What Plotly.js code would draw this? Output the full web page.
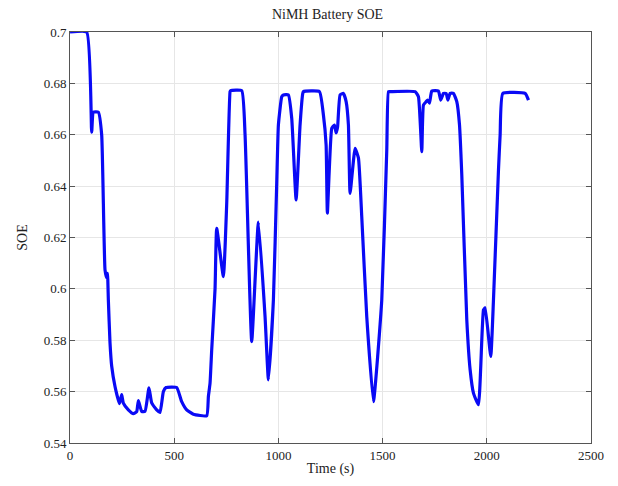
<!DOCTYPE html>
<html>
<head>
<meta charset="utf-8">
<script src="https://cdn.plot.ly/plotly-3.0.1.min.js"></script>
<style>html,body{margin:0;padding:0;background:#fff;}#chart{width:618px;height:486px;}</style>
</head>
<body>
<div id="chart"></div>
<script>
// Time (s)
var timeS = [0, 80, 104, 112, 136, 152, 168, 176, 180, 184, 192, 200, 216, 237, 248, 256, 280, 304, 320, 328, 344, 360, 379, 392, 416, 432, 448, 461, 512, 536, 560, 592, 656, 664, 672, 680, 696, 704, 736, 752, 768, 771, 824, 840, 872, 904, 936, 952, 976, 992, 1000, 1016, 1024, 1048, 1064, 1085, 1104, 1117, 1120, 1197, 1216, 1229, 1235, 1256, 1269, 1277, 1284, 1296, 1312, 1325, 1336, 1344, 1368, 1384, 1400, 1424, 1456, 1496, 1520, 1528, 1536, 1656, 1672, 1688, 1696, 1709, 1716, 1725, 1736, 1768, 1779, 1792, 1805, 1813, 1824, 1840, 1856, 1869, 1880, 1904, 1920, 1936, 1960, 1984, 1992, 2019, 2032, 2056, 2064, 2077, 2184, 2200];
// State of energy
var soe = [0.700, 0.700, 0.661, 0.6688, 0.6688, 0.660, 0.6074, 0.6043, 0.606, 0.5957, 0.579, 0.570, 0.562, 0.5553, 0.5588, 0.5555, 0.5529, 0.5514, 0.5522, 0.5565, 0.5523, 0.5523, 0.5615, 0.5556, 0.5529, 0.5519, 0.560, 0.5616, 0.5616, 0.5561, 0.5529, 0.5512, 0.5506, 0.5581, 0.5633, 0.5763, 0.600, 0.6236, 0.6048, 0.6333, 0.6768, 0.6772, 0.6772, 0.660, 0.5795, 0.626, 0.5892, 0.5646, 0.5957, 0.6412, 0.6638, 0.6748, 0.6755, 0.6755, 0.6664, 0.6346, 0.6638, 0.6761, 0.6768, 0.6768, 0.6677, 0.656, 0.6295, 0.6625, 0.6638, 0.6607, 0.6630, 0.6755, 0.6761, 0.6729, 0.6638, 0.6372, 0.6547, 0.651, 0.628, 0.5892, 0.5561, 0.5957, 0.654, 0.6768, 0.6768, 0.6768, 0.6748, 0.6534, 0.6716, 0.6729, 0.6735, 0.6723, 0.677, 0.677, 0.6735, 0.6761, 0.6761, 0.6735, 0.6761, 0.6761, 0.6729, 0.6638, 0.6444, 0.588, 0.5685, 0.5594, 0.5549, 0.5918, 0.5926, 0.5737, 0.5957, 0.6463, 0.660, 0.6761, 0.6761, 0.6735];

var xTickVals = [0, 500, 1000, 1500, 2000, 2500];
var xTickText = ["0", "500", "1000", "1500", "2000", "2500"];
var yTickVals = [0.54, 0.56, 0.58, 0.6, 0.62, 0.64, 0.66, 0.68, 0.7];
var yTickText = ["0.54", "0.56", "0.58", "0.6", "0.62", "0.64", "0.66", "0.68", "0.7"];

var serif = "Liberation Serif, Times New Roman, serif";

var trace = {
  x: timeS, y: soe, type: "scatter", mode: "lines",
  line: {color: "#0a0af5", width: 3.2, shape: "spline", smoothing: 0.4},
  hoverinfo: "skip"
};

var layout = {
  width: 618, height: 486,
  margin: {l: 70, r: 27, t: 32, b: 43},
  paper_bgcolor: "#fff", plot_bgcolor: "#fff",
  showlegend: false,
  title: {text: "NiMH Battery SOE", font: {family: serif, size: 14, color: "#222"}, x: 0.53, xanchor: "center", y: 0.97, yanchor: "middle"},
  xaxis: {
    range: [0, 2500], tickvals: xTickVals, ticktext: xTickText,
    showgrid: true, gridcolor: "#e6e6e6", gridwidth: 1,
    zeroline: false, showline: true, linecolor: "#555", linewidth: 1, mirror: "ticks",
    ticks: "inside", ticklen: 5, tickcolor: "#555",
    tickfont: {family: serif, size: 13, color: "#222"},
    title: {text: "Time (s)", font: {family: serif, size: 14, color: "#222"}, standoff: 1}
  },
  yaxis: {
    range: [0.54, 0.7], tickvals: yTickVals, ticktext: yTickText,
    showgrid: true, gridcolor: "#e6e6e6", gridwidth: 1,
    zeroline: false, showline: true, linecolor: "#555", linewidth: 1, mirror: "ticks",
    ticks: "inside", ticklen: 5, tickcolor: "#555",
    tickfont: {family: serif, size: 13, color: "#222"},
    title: {text: "SOE", font: {family: serif, size: 14, color: "#222"}, standoff: 12}
  }
};

Plotly.newPlot("chart", [trace], layout, {staticPlot: true, displayModeBar: false});
</script>
</body>
</html>
